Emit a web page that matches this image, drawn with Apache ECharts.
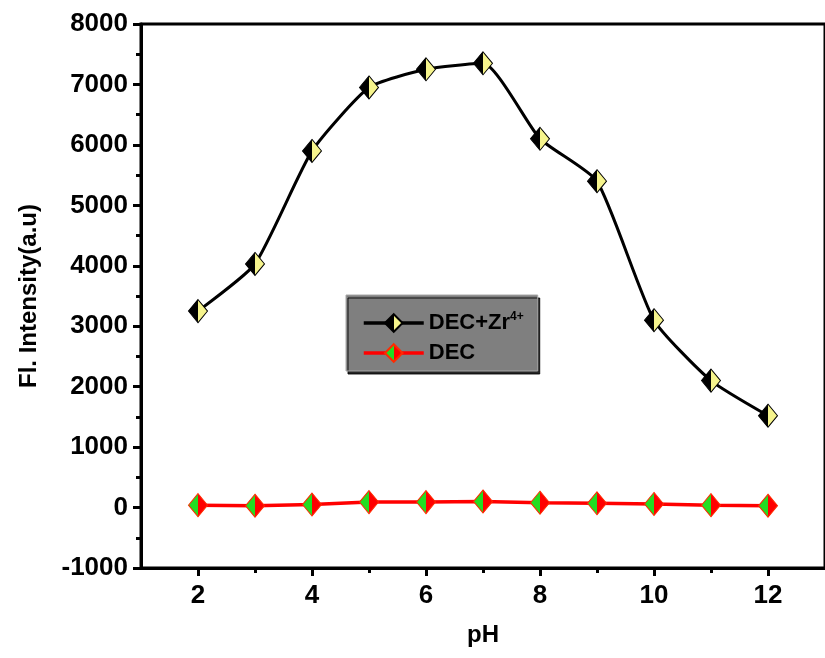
<!DOCTYPE html>
<html><head><meta charset="utf-8">
<script src="https://cdn.jsdelivr.net/npm/echarts@6/dist/echarts.min.js"></script>
<style>html,body{margin:0;padding:0;background:#fff}#c{width:825px;height:658px}</style>
</head><body><div id="c"></div>
<script>
const pH = [2, 3, 4, 5, 6, 7, 8, 9, 10, 11, 12];
const decZr = [3250, 4030, 5900, 6950, 7250, 7350, 6100, 5400, 3100, 2100, 1520];
const dec = [40, 30, 50, 90, 90, 100, 80, 70, 60, 40, 30];
const xMajorTicks = [2, 4, 6, 8, 10, 12];
const xMinorTicks = [3, 5, 7, 9, 11];
const seriesNames = ['DEC+Zr4+', 'DEC'];

const FONT = "'Liberation Sans', Arial, sans-serif";
function halfFill(left, right) {
  return {
    type: 'linear', x: 0, y: 0, x2: 1, y2: 0,
    colorStops: [
      { offset: 0, color: left }, { offset: 0.5, color: left },
      { offset: 0.5, color: right }, { offset: 1, color: right }
    ]
  };
}
function pairs(xs, ys) { return xs.map((x, i) => [x, ys[i]]); }

const chart = echarts.init(document.getElementById('c'));
chart.setOption({
  backgroundColor: '#fff',
  animation: false,
  grid: { left: 141, top: 24, bottom: 90, right: -8, show: true, borderColor: '#000', borderWidth: 3, backgroundColor: 'transparent' },
  legend: {
    left: 346, top: 295, orient: 'vertical',
    data: seriesNames,
    backgroundColor: '#7f7f7f',
    borderColor: '#a8a8a8', borderWidth: 1,
    shadowColor: 'rgba(0,0,0,0.85)', shadowOffsetX: 2, shadowOffsetY: 3, shadowBlur: 0,
    padding: [16, 14, 7, 16],
    itemWidth: 60, itemHeight: 22, itemGap: 8,
    lineStyle: { width: 3.5 },
    textStyle: {
      fontFamily: FONT, fontWeight: 'bold', fontSize: 22, color: '#000',
      rich: {
        b: { fontFamily: FONT, fontWeight: 'bold', fontSize: 22, color: '#000' },
        sup: { fontFamily: FONT, fontWeight: 'bold', fontSize: 12, color: '#000', verticalAlign: 'top', padding: [0, 0, 12, 0] }
      }
    },
    formatter: function (n) {
      if (n === 'DEC+Zr4+') return '{b|DEC+Zr}{sup|4+}';
      return '{b|' + n + '}';
    }
  },
  xAxis: [
    {
      type: 'value', min: 1, max: 13, interval: 1,
      name: 'pH', nameLocation: 'middle', nameGap: 55,
      nameTextStyle: { fontFamily: FONT, fontWeight: 'bold', fontSize: 24, color: '#000' },
      axisLine: { onZero: false, lineStyle: { color: '#000', width: 3 } },
      splitLine: { show: false },
      axisTick: { show: true, inside: false, length: 8, lineStyle: { color: '#000', width: 3 }, customValues: xMajorTicks },
      axisLabel: { fontFamily: FONT, fontWeight: 'bold', fontSize: 26, color: '#000', margin: 15, customValues: xMajorTicks }
    },
    {
      type: 'value', min: 1, max: 13, interval: 1, position: 'bottom',
      axisLine: { show: false, onZero: false }, splitLine: { show: false },
      axisTick: { show: true, length: 5, lineStyle: { color: '#000', width: 3 }, customValues: xMinorTicks },
      axisLabel: { show: false }
    }
  ],
  yAxis: {
    type: 'value', min: -1000, max: 8000, interval: 1000,
    name: 'Fl. Intensity(a.u)', nameLocation: 'middle', nameGap: 100,
    nameTextStyle: { fontFamily: FONT, fontWeight: 'bold', fontSize: 24, color: '#000' },
    axisLine: { onZero: false, lineStyle: { color: '#000', width: 3 } },
    splitLine: { show: false },
    axisTick: { show: true, length: 8, lineStyle: { color: '#000', width: 3 } },
    minorTick: { show: true, splitNumber: 2, length: 5, lineStyle: { color: '#000', width: 3 } },
    axisLabel: { fontFamily: FONT, fontWeight: 'bold', fontSize: 26, color: '#000', margin: 13, formatter: function (v) { return String(v); } }
  },
  series: [
    {
      name: 'DEC', type: 'line', data: pairs(pH, dec),
      symbol: 'diamond', symbolSize: [19, 23],
      lineStyle: { color: '#ff0000', width: 3.5 },
      itemStyle: { color: halfFill('#22dd22', '#ff0000'), borderColor: '#ff2a00', borderWidth: 1 },
      z: 2
    },
    {
      name: 'DEC+Zr4+', type: 'line', data: pairs(pH, decZr), smooth: 0.18,
      symbol: 'diamond', symbolSize: [19, 23],
      lineStyle: { color: '#000', width: 3 },
      itemStyle: { color: halfFill('#000000', '#f6f48c'), borderColor: '#000', borderWidth: 1 },
      z: 3
    }
  ]
});
</script></body></html>
